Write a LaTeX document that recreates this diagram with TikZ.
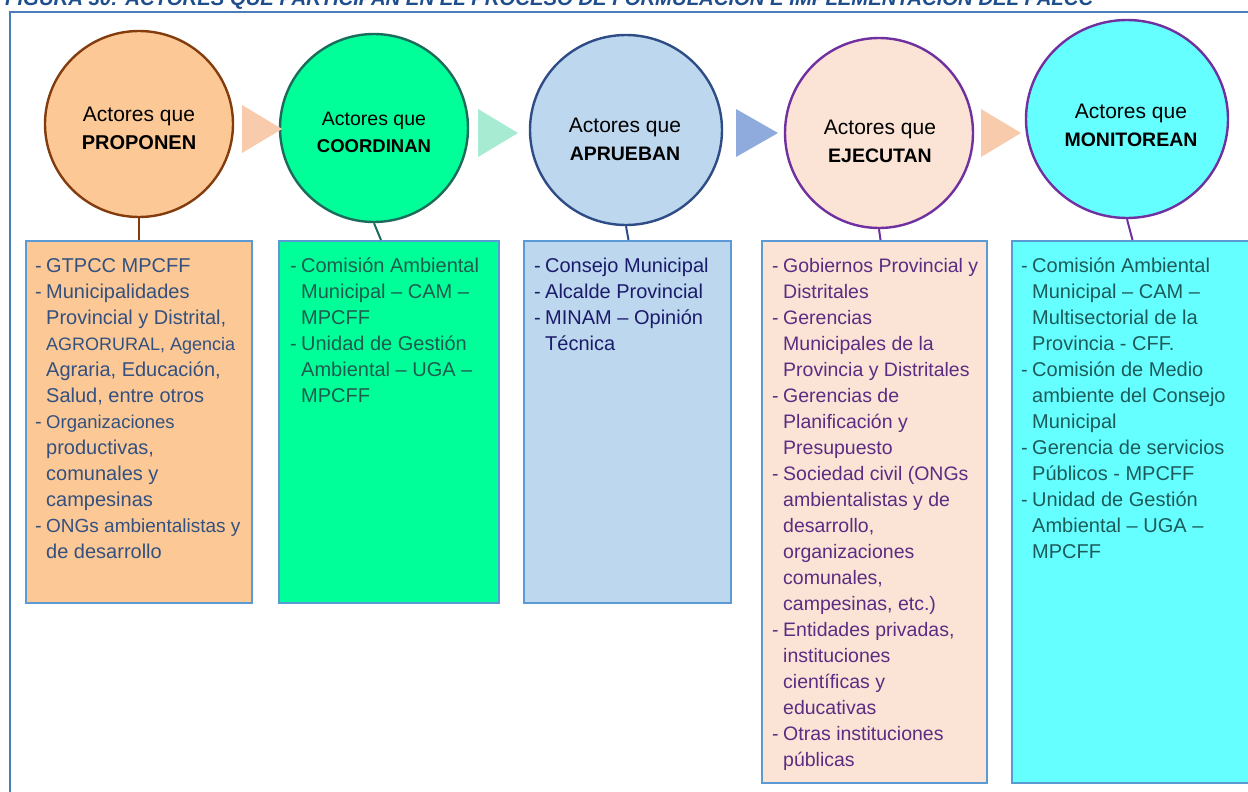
\documentclass[tikz,border=0pt]{standalone}
\usepackage{fontspec}
\setmainfont{Liberation Sans}
\usetikzlibrary{shapes.geometric}

\definecolor{propfill}{HTML}{FCC996}
\definecolor{propline}{HTML}{843C0C}
\definecolor{proptext}{HTML}{33507F}
\definecolor{coorfill}{HTML}{00FF99}
\definecolor{coorline}{HTML}{1D6B5B}
\definecolor{coortext}{HTML}{1E5C4E}
\definecolor{aprufill}{HTML}{BDD7EE}
\definecolor{apruline}{HTML}{2E4D87}
\definecolor{aprutext}{HTML}{1B1B6B}
\definecolor{ejecfill}{HTML}{FBE4D5}
\definecolor{ejecline}{HTML}{7030A0}
\definecolor{ejectext}{HTML}{5B2C83}
\definecolor{monifill}{HTML}{66FFFF}
\definecolor{monitext}{HTML}{1D5B5B}
\definecolor{tripeach}{HTML}{F8CBAD}
\definecolor{trimint}{HTML}{A8EBD3}
\definecolor{triblue}{HTML}{8FAADC}
\definecolor{boxline}{HTML}{5B9BD5}
\definecolor{frameblue}{HTML}{4A7EBB}
\definecolor{titleblue}{HTML}{1F4E8C}

\newcommand{\actlist}[1]{\begin{tabular}[t]{@{}p{11pt}@{}l@{}}#1\end{tabular}}
\newcommand{\fsz}[2]{{\fontsize{#1}{26}\selectfont #2}}

\begin{document}
\begin{tikzpicture}[x=1pt, y=-1pt,
  actor/.style={ellipse, draw, line width=2.4pt, inner sep=0pt},
  actorlbl/.style={align=center, inner sep=0pt, font=\fontsize{21}{28}\selectfont},
  actbox/.style={draw=boxline, line width=2pt, inner sep=0pt, anchor=north west},
  acttext/.style={anchor=base west, inner sep=0pt, font=\fontsize{20}{26}\selectfont},
  link/.style={line width=2pt}]
  \useasboundingbox (0,0) rectangle (1248,792);
  \clip (0,0) rectangle (1248,792);

  % Title (cut at the top) and frame
  \node[anchor=base west, inner sep=0pt, text=titleblue,
    font=\fontsize{20.3}{20}\bfseries\itshape] (ttl) at (5,6)
    {FIGURA 30: ACTORES QUE PARTICIPAN EN EL PROCESO DE FORMULACIÓN E IMPLEMENTACIÓN DEL PALCC};
  \draw[frameblue, line width=2pt] (10,12) rectangle (1270,810);

  % Circles of the actors
  \node[actor, fill=propfill, draw=propline, minimum width=188pt, minimum height=186pt] (c1) at (139,124) {};
  \node[actor, fill=coorfill, draw=coorline, minimum width=188pt, minimum height=188pt] (c2) at (374,128) {};
  \node[actor, fill=aprufill, draw=apruline, minimum width=192pt, minimum height=190pt] (c3) at (626,130) {};
  \node[actor, fill=ejecfill, draw=ejecline, minimum width=188pt, minimum height=190pt] (c4) at (879,133) {};
  \node[actor, fill=monifill, draw=ejecline, minimum width=202pt, minimum height=198pt] (c5) at (1127,119) {};

  \node[actorlbl] (l1) at (139,128) {Actores que\\\textbf{\fontsize{20}{28}\selectfont PROPONEN}};
  \node[actorlbl, font=\fontsize{19.5}{27}\selectfont] (l2) at (374,132) {Actores que\\\textbf{\fontsize{18.5}{27}\selectfont COORDINAN}};
  \node[actorlbl] (l3) at (625,139) {Actores que\\\textbf{\fontsize{19.5}{30}\selectfont APRUEBAN}};
  \node[actorlbl] (l4) at (880,141) {Actores que\\\textbf{\fontsize{19.5}{30}\selectfont EJECUTAN}};
  \node[actorlbl] (l5) at (1131,125) {Actores que\\\textbf{\fontsize{19.5}{26}\selectfont MONITOREAN}};

  % Arrow heads between the circles
  \fill[tripeach] (242,105) -- (282,129) -- (242,153) -- cycle;
  \fill[trimint] (478,109) -- (518,133) -- (478,157) -- cycle;
  \fill[triblue] (736,109) -- (778,133) -- (736,157) -- cycle;
  \fill[tripeach] (981,109) -- (1021,133) -- (981,157) -- cycle;

  % Boxes with the lists
  \node[actbox, fill=propfill, minimum width=226pt, minimum height=362pt] (b1) at (25,240) {};
  \node[actbox, fill=coorfill, minimum width=220pt, minimum height=362pt] (b2) at (278,240) {};
  \node[actbox, fill=aprufill, minimum width=207pt, minimum height=362pt] (b3) at (523,240) {};
  \node[actbox, fill=ejecfill, minimum width=225pt, minimum height=542pt] (b4) at (761,240) {};
  \node[actbox, fill=monifill, minimum width=249pt, minimum height=542pt] (b5) at (1011,240) {};

  % Links circle -> box
  \draw[link, propline] (c1.south) -- (b1.north);
  \draw[link, coorline] (c2.south) -- ([xshift=-8pt]b2.north);
  \draw[link, apruline] (c3.south) -- ([xshift=1pt]b3.north);
  \draw[link, ejecline] (c4.south) -- ([xshift=6pt]b4.north);
  \draw[link, ejecline] (c5.south) -- ([xshift=-4pt]b5.north);

  % Lists
  \node[acttext, text=proptext] (t1) at (35,272) {\actlist{%
    - & GTPCC MPCFF\\
    - & Municipalidades\\
      & Provincial y Distrital,\\
      & \fsz{18}{AGRORURAL, Agencia}\\
      & Agraria, Educación,\\
      & Salud, entre otros\\
    - & \fsz{18.5}{Organizaciones}\\
      & productivas,\\
      & comunales y\\
      & campesinas\\
    - & \fsz{19}{ONGs ambientalistas y}\\
      & de desarrollo}};
  \node[acttext, text=coortext] (t2) at (290,272) {\actlist{%
    - & Comisión Ambiental\\
      & Municipal – CAM –\\
      & MPCFF\\
    - & Unidad de Gestión\\
      & Ambiental – UGA –\\
      & MPCFF}};
  \node[acttext, text=aprutext] (t3) at (534,272) {\actlist{%
    - & Consejo Municipal\\
    - & Alcalde Provincial\\
    - & MINAM – Opinión\\
      & Técnica}};
  \node[acttext, text=ejectext, font=\fontsize{19.5}{26}\selectfont] (t4) at (772,272) {\actlist{%
    - & Gobiernos Provincial y\\
      & Distritales\\
    - & Gerencias\\
      & Municipales de la\\
      & Provincia y Distritales\\
    - & Gerencias de\\
      & Planificación y\\
      & Presupuesto\\
    - & Sociedad civil (ONGs\\
      & ambientalistas y de\\
      & desarrollo,\\
      & organizaciones\\
      & comunales,\\
      & campesinas, etc.)\\
    - & Entidades privadas,\\
      & instituciones\\
      & científicas y\\
      & educativas\\
    - & Otras instituciones\\
      & públicas}};
  \node[acttext, text=monitext] (t5) at (1021,272) {\actlist{%
    - & Comisión Ambiental\\
      & Municipal – CAM –\\
      & Multisectorial de la\\
      & Provincia - CFF.\\
    - & Comisión de Medio\\
      & ambiente del Consejo\\
      & Municipal\\
    - & Gerencia de servicios\\
      & Públicos - MPCFF\\
    - & Unidad de Gestión\\
      & Ambiental – UGA –\\
      & MPCFF}};
\end{tikzpicture}
\end{document}
